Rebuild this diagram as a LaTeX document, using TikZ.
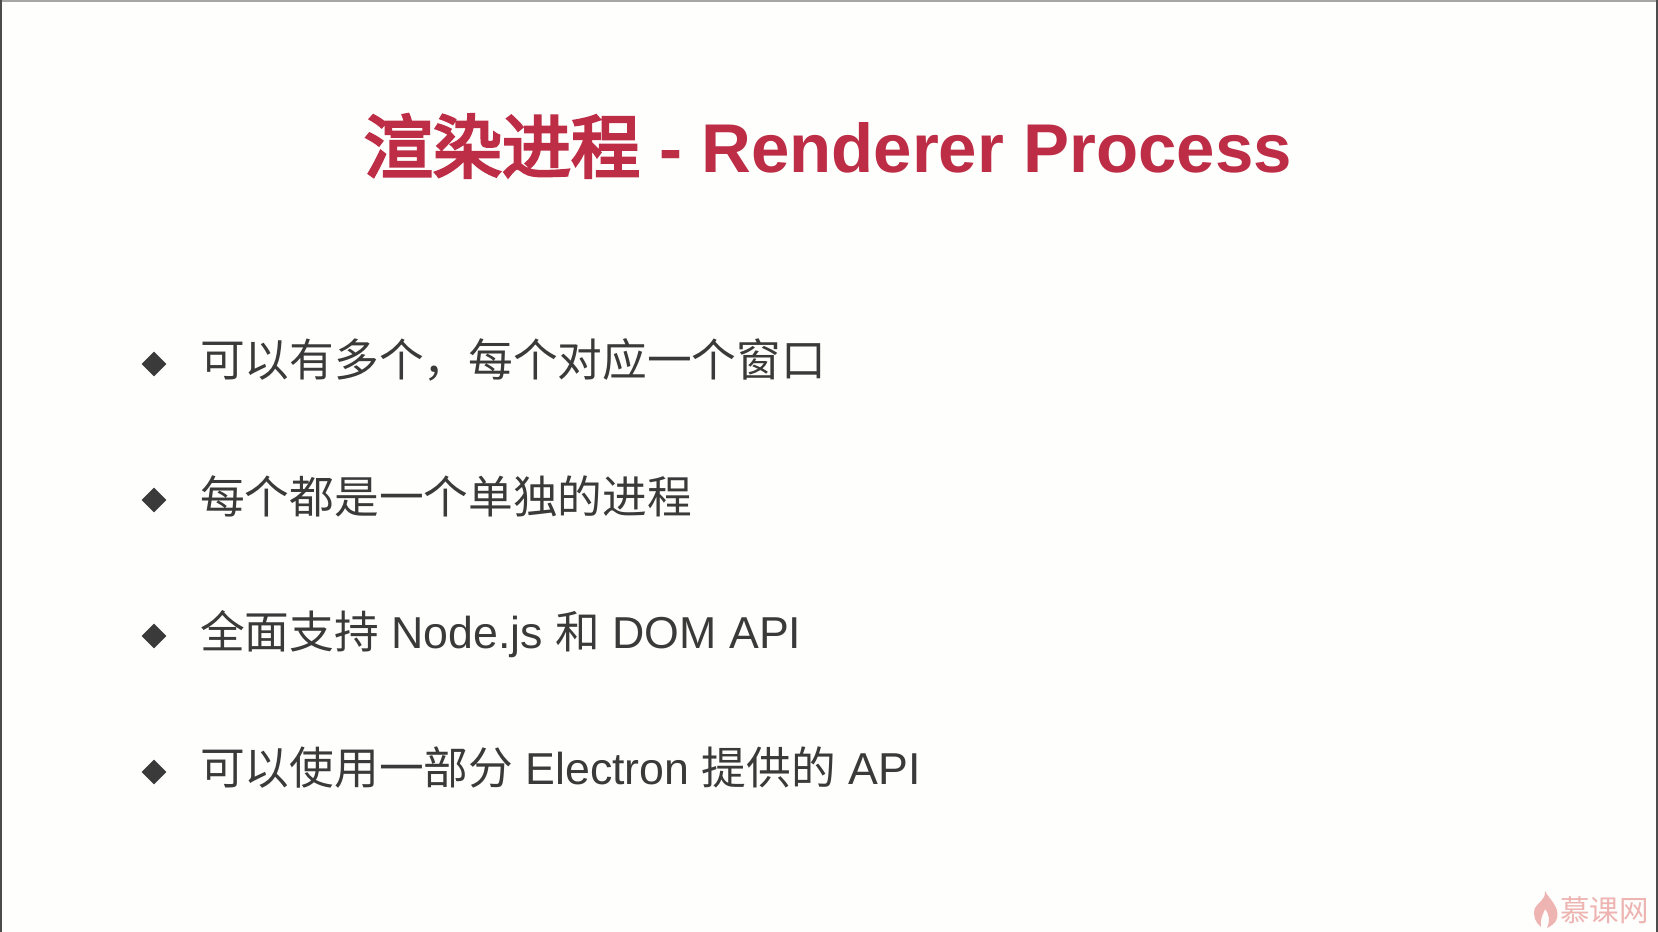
\documentclass[tikz,border=0pt]{standalone}
\usepackage{fontspec}
\setmainfont{Liberation Sans}
\newfontfamily\cjk{Noto Sans CJK SC}
\newfontfamily\cjkfat[FakeBold=4]{Noto Sans CJK SC}
\definecolor{titlered}{HTML}{BD2D45}
\definecolor{bodyink}{HTML}{3A3A3A}
\definecolor{markpink}{HTML}{EDB4B2}
\definecolor{paper}{HTML}{FEFEFD}
\newcommand{\zh}[1]{{\cjk #1}}
\usetikzlibrary{shapes.geometric}
\tikzset{
  x=1pt,y=-1pt,
  bodytext/.style={anchor=west,inner sep=0pt,text=bodyink,font=\fontsize{44.7}{50}\selectfont},
  titletext/.style={anchor=center,inner sep=0pt,text=titlered,font=\fontsize{69}{76}\selectfont\bfseries},
  bulletmark/.style={diamond,aspect=1,fill=bodyink,inner sep=0pt,minimum size=25pt},
}
\begin{document}
\begin{tikzpicture}
\useasboundingbox (0,0) rectangle (1658,932);
\fill[paper] (0,0) rectangle (1658,932);
\fill[gray!70] (0,0) rectangle (1658,1.5);
\fill[black!70] (0,0) rectangle (2,932);
\fill[black!70] (1656,0) rectangle (1658,932);
\node[titletext] (title) at (828,146) {{\mdseries\cjkfat 渲染进程} - Renderer Process};
\node[bulletmark] (b1) at (154,364) {};
\node[bulletmark] (b2) at (154,500) {};
\node[bulletmark] (b3) at (154,636) {};
\node[bulletmark] (b4) at (154,772) {};
\node[bodytext] (t1) at (200,360) {\zh{可以有多个，每个对应一个窗口}};
\node[bodytext] (t2) at (200,496) {\zh{每个都是一个单独的进程}};
\node[bodytext] (t3) at (200,634) {\zh{全面支持} Node.js \zh{和} DOM API};
\node[bodytext] (t4) at (200,768) {\zh{可以使用一部分} Electron \zh{提供的} API};
\fill[markpink] (1545,891) .. controls (1549,899) and (1560,907) .. (1557,918)
  .. controls (1556,923) and (1551,926) .. (1547,928)
  .. controls (1550,921) and (1550,915) .. (1545,909)
  .. controls (1543,915) and (1540,917) .. (1541,927)
  .. controls (1536,923) and (1532,916) .. (1535,908)
  .. controls (1537,903) and (1546,900) .. (1545,891) -- cycle;
\node[anchor=west,inner sep=0pt,text=markpink,font=\cjk\fontsize{29.5}{30}\selectfont] (wm) at (1560,910) {慕课网};
\end{tikzpicture}
\end{document}
